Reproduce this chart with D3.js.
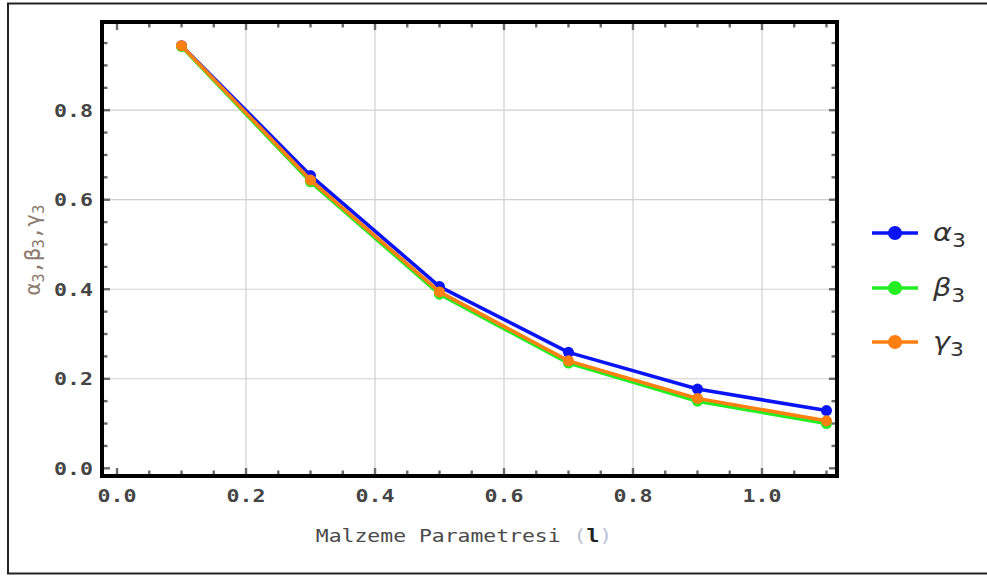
<!DOCTYPE html>
<html>
<head>
<meta charset="utf-8">
<script src="https://cdn.jsdelivr.net/npm/d3@7/dist/d3.min.js"></script>
<style>
  html, body { margin: 0; padding: 0; background: #fff; }
  svg { display: block; }
</style>
</head>
<body>
<svg id="chart" width="987" height="576"></svg>
<script>
// Material parameter l and the three coefficients
const paramL = [0.1, 0.3, 0.5, 0.7, 0.9, 1.1];
const alpha3 = [0.944, 0.654, 0.406, 0.259, 0.177, 0.129];
const beta3  = [0.942, 0.640, 0.389, 0.235, 0.150, 0.100];
const gamma3 = [0.944, 0.644, 0.394, 0.240, 0.156, 0.106];

const xTicks = [0.0, 0.2, 0.4, 0.6, 0.8, 1.0];
const yTicks = [0.0, 0.2, 0.4, 0.6, 0.8];
const seriesNames = ["α", "β", "γ"];
const seriesColors = ["#0a14f5", "#22ee22", "#ff7f10"];
const seriesValues = [alpha3, beta3, gamma3];

const svg = d3.select("#chart");
const frame = { left: 102, right: 837, top: 22, bottom: 476 };

const x = d3.scaleLinear().domain([-0.0233, 1.1163]).range([frame.left, frame.right]);
const y = d3.scaleLinear().domain([-0.0172, 0.997]).range([frame.bottom, frame.top]);

// outer border (top, left, bottom)
svg.append("path")
  .attr("d", "M987,3.5 L8,3.5 L8,573.5 L987,573.5")
  .attr("fill", "none").attr("stroke", "#222").attr("stroke-width", 2);

// grid
const grid = svg.append("g").attr("stroke", "#d0d0d0").attr("stroke-width", 1.2);
xTicks.filter(v => v > 0).forEach(v => {
  grid.append("line").attr("x1", x(v)).attr("x2", x(v))
    .attr("y1", frame.top).attr("y2", frame.bottom);
});
yTicks.filter(v => v > 0).forEach(v => {
  grid.append("line").attr("y1", y(v)).attr("y2", y(v))
    .attr("x1", frame.left).attr("x2", frame.right);
});

// tick marks on all four sides, pointing inward
const ticks = svg.append("g").attr("stroke", "#6a6a6a").attr("stroke-width", 2.4);
const inner = 2;
d3.range(0, 1.1001, 0.05).forEach(v => {
  const major = Math.abs(v / 0.2 - Math.round(v / 0.2)) < 1e-6;
  const len = major ? 6 : 3.5;
  const px = x(v);
  ticks.append("line").attr("x1", px).attr("x2", px)
    .attr("y1", frame.bottom - inner).attr("y2", frame.bottom - inner - len);
  ticks.append("line").attr("x1", px).attr("x2", px)
    .attr("y1", frame.top + inner).attr("y2", frame.top + inner + len);
});
d3.range(0, 0.9501, 0.05).forEach(v => {
  const major = Math.abs(v / 0.2 - Math.round(v / 0.2)) < 1e-6;
  const len = major ? 6 : 3.5;
  const py = y(v);
  ticks.append("line").attr("y1", py).attr("y2", py)
    .attr("x1", frame.left + inner).attr("x2", frame.left + inner + len);
  ticks.append("line").attr("y1", py).attr("y2", py)
    .attr("x1", frame.right - inner).attr("x2", frame.right - inner - len);
});

// series
const line = d3.line().x((d, i) => x(paramL[i])).y(d => y(d));
seriesValues.forEach((vals, k) => {
  const g = svg.append("g");
  g.append("path").datum(vals)
    .attr("d", line)
    .attr("fill", "none")
    .attr("stroke", seriesColors[k])
    .attr("stroke-width", 3.6)
    .attr("stroke-linejoin", "round");
  g.selectAll("circle").data(vals).join("circle")
    .attr("cx", (d, i) => x(paramL[i]))
    .attr("cy", d => y(d))
    .attr("r", 5.5)
    .attr("fill", seriesColors[k]);
});

// frame
svg.append("rect")
  .attr("x", frame.left).attr("y", frame.top)
  .attr("width", frame.right - frame.left).attr("height", frame.bottom - frame.top)
  .attr("fill", "none").attr("stroke", "#000").attr("stroke-width", 4);

// tick labels
const mono = "'DejaVu Sans Mono', 'Liberation Mono', monospace";
const fmt = d3.format(".1f");
xTicks.forEach(v => {
  svg.append("text")
    .attr("transform", `translate(${x(v)},502) scale(1.2,1)`)
    .attr("text-anchor", "middle")
    .attr("font-family", mono).attr("font-size", 18).attr("font-weight", "bold")
    .attr("fill", "#454545")
    .text(fmt(v));
});
yTicks.forEach(v => {
  svg.append("text")
    .attr("transform", `translate(93,${y(v) + 6.5}) scale(1.2,1)`)
    .attr("text-anchor", "end")
    .attr("font-family", mono).attr("font-size", 18).attr("font-weight", "bold")
    .attr("fill", "#454545")
    .text(fmt(v));
});

// x axis title
const xt = svg.append("text")
  .attr("transform", "translate(464,542) scale(1.19,1)")
  .attr("text-anchor", "middle")
  .attr("font-family", mono).attr("font-size", 18)
  .attr("fill", "#4a4a4a");
xt.append("tspan").text("Malzeme Parametresi ");
xt.append("tspan").attr("fill", "#b8c4d4").text("(");
xt.append("tspan").attr("fill", "#222").attr("font-weight", "bold").text("l");
xt.append("tspan").attr("fill", "#b8c4d4").text(")");

// y axis title
const yt = svg.append("text")
  .attr("transform", "translate(40,250) rotate(-90)")
  .attr("text-anchor", "middle")
  .attr("font-family", mono).attr("font-size", 21)
  .attr("fill", "#8c7a6e");
seriesNames.forEach((n, k) => {
  yt.append("tspan").text(n);
  yt.append("tspan").attr("font-size", 15).attr("dy", 4).text("3");
  if (k < seriesNames.length - 1) yt.append("tspan").attr("dy", -4).text(",");
});

// legend
const legendY = [233, 288, 342];
seriesNames.forEach((n, k) => {
  const g = svg.append("g").attr("transform", `translate(0,${legendY[k]})`);
  g.append("line").attr("x1", 872).attr("x2", 918).attr("y1", 0).attr("y2", 0)
    .attr("stroke", seriesColors[k]).attr("stroke-width", 3.6);
  g.append("circle").attr("cx", 895).attr("cy", 0).attr("r", 7)
    .attr("fill", seriesColors[k]);
  const t = g.append("text")
    .attr("transform", "translate(933,8) scale(1.15,1)")
    .attr("font-family", "'DejaVu Sans', 'Noto Sans', sans-serif")
    .attr("fill", "#333");
  t.append("tspan").attr("font-size", 25).attr("font-style", "italic").text(n);
  t.append("tspan").attr("font-size", 19).attr("dy", 6).text("3");
});
</script>
</body>
</html>
